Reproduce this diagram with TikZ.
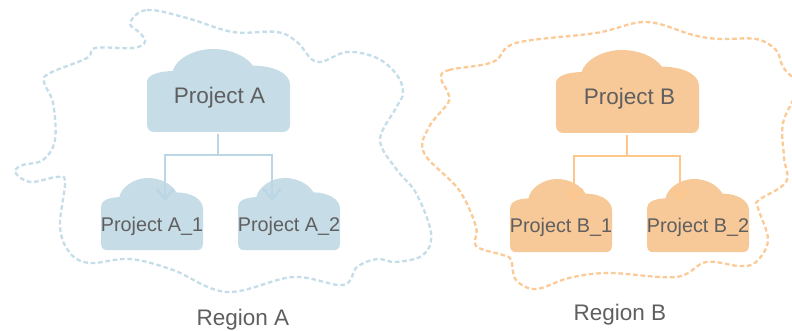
\documentclass[tikz,border=0pt]{standalone}
\usepackage{fontspec}
\setmainfont{Liberation Sans}
\usetikzlibrary{arrows.meta}
\definecolor{blueA}{HTML}{C6DCE7}
\definecolor{lineA}{HTML}{BBD6E4}
\definecolor{dashA}{HTML}{C4DDE9}
\definecolor{orangeB}{HTML}{F7C898}
\definecolor{lineB}{HTML}{FDC78C}
\definecolor{dashB}{HTML}{FCCA96}
\definecolor{txt}{HTML}{5F5F5F}
\tikzset{
  blobline/.style={line width=2.3pt,dash pattern=on 4.6pt off 2.8pt,smooth cycle,tension=0.6},
  bigtext/.style={text=txt,font=\fontsize{22.5}{24}\selectfont,minimum width=143pt,minimum height=72pt,inner sep=0pt},
  smalltext/.style={text=txt,font=\fontsize{19.8}{22}\selectfont,minimum width=102pt,minimum height=52pt,inner sep=0pt},
  regiontext/.style={text=txt,font=\fontsize{22.5}{24}\selectfont,inner sep=0pt},
  link/.style={line width=2.6pt,line join=miter},
  linkarrow/.style={link,-{Straight Barb[length=10pt,width=17pt,line width=2.6pt]}}
}
% cloud: left, top, width, height, colour
\newcommand{\cloudshape}[5]{%
  \begin{scope}[shift={(#1,#2)},x=#3pt,y=-#4pt]
    \fill[#5] (0,.40) .. controls (0,.31) and (.08,.27) .. (.18,.265)
      .. controls (.2,.13) and (.32,0) .. (.46,0)
      .. controls (.58,0) and (.69,.08) .. (.74,.2)
      .. controls (.88,.2) and (1,.29) .. (1,.43)
      -- (1,.9) .. controls (1,.97) and (.98,1) .. (.945,1)
      -- (.055,1) .. controls (.02,1) and (0,.97) .. (0,.9) -- cycle;
  \end{scope}}
\begin{document}
\begin{tikzpicture}[x=1pt,y=-1pt]
\clip (0,0) rectangle (792,331);
% region outlines
\draw[dashA,blobline] plot coordinates {(130,23) (147,10) (187,18) (233,32) (277,32) (297,42) (317,62) (347,52) (377,58) (397,75) (403,93) (396,108) (380,140) (397,170) (416,193) (431,233) (423,255) (396,262) (377,259) (357,267) (343,285) (293,277) (227,292) (173,270) (130,259) (90,263) (70,253) (60,227) (65,182) (57,177) (30,182) (15,172) (23,165) (43,160) (55,140) (53,103) (44,82) (50,73) (87,58) (95,48) (133,48) (145,42) (140,33)};
\draw[dashB,blobline] plot coordinates {(441,78) (449,70) (493,62) (516,43) (596,33) (646,22) (693,35) (719,39) (756,39) (776,50) (783,67) (797,88) (783,123) (784,157) (786,182) (759,200) (758,208) (768,240) (756,262) (739,266) (706,262) (676,277) (609,273) (569,278) (536,289) (516,280) (511,260) (503,255) (476,246) (476,227) (459,190) (424,153) (429,127) (448,103) (448,93)};
% clouds
\cloudshape{147}{49}{143}{83}{blueA}
\cloudshape{101}{178}{102}{72}{blueA}
\cloudshape{238}{178}{102}{72}{blueA}
\cloudshape{556}{50}{143}{83}{orangeB}
\cloudshape{510}{179}{102}{73}{orangeB}
\cloudshape{647}{179}{102}{73}{orangeB}
% labels
\node[bigtext] (pa) at (219.5,98) {Project A};
\node[smalltext] (pa1) at (152,226) {Project A\_1};
\node[smalltext] (pa2) at (289,226) {Project A\_2};
\node[bigtext] (pb) at (629.5,99) {Project B};
\node[smalltext] (pb1) at (561,227) {Project B\_1};
\node[smalltext] (pb2) at (698,227) {Project B\_2};
\node[regiontext] (ra) at (243,320) {Region A};
\node[regiontext] (rb) at (620,315) {Region B};
% connectors
\coordinate (ja) at (218,155);
\coordinate (ta1) at (165,201);
\coordinate (ta2) at (272,201);
\coordinate (jb) at (627,156);
\coordinate (tb1) at (574,201);
\coordinate (tb2) at (680,201);
\draw[link,lineA] (ja |- pa.south) -- (ja);
\draw[linkarrow,lineA] (ja) -| (ta1);
\draw[linkarrow,lineA] (ja) -| (ta2);
\draw[link,lineB] (jb |- pb.south) -- (jb);
\draw[linkarrow,lineB] (jb) -| (tb1);
\draw[linkarrow,lineB] (jb) -| (tb2);
\end{tikzpicture}
\end{document}
